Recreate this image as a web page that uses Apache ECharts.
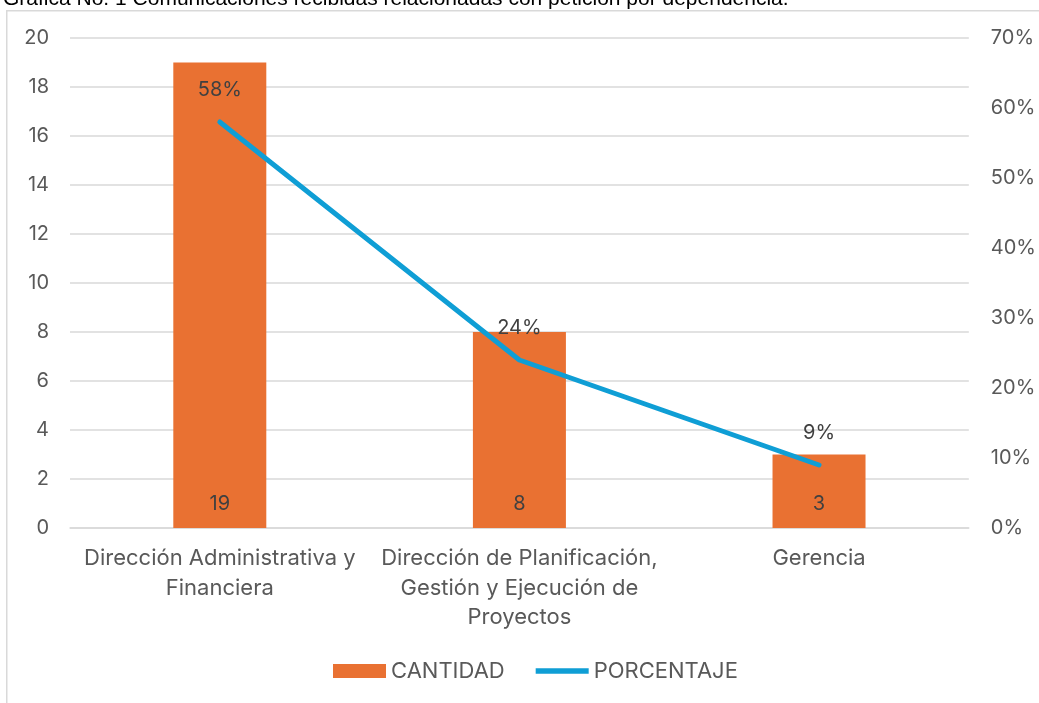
<!DOCTYPE html>
<html><head><meta charset="utf-8">
<script src="https://cdn.jsdelivr.net/npm/echarts@6/dist/echarts.min.js"></script>
<style>html,body{margin:0;padding:0;background:#fff;}#c{width:1039px;height:703px;}</style>
</head><body><div id="c"></div>
<script>
const categories = ['Dirección Administrativa y\nFinanciera', 'Dirección de Planificación,\nGestión y Ejecución de\nProyectos', 'Gerencia'];
const cantidad = [19, 8, 3];
const porcentaje = [0.58, 0.24, 0.09];
const titleText = 'Gráfica No. 1 Comunicaciones recibidas relacionadas con petición por dependencia.';

const FONT = 'Inter, "Open Sans", sans-serif';
const FS = 20;
const FC = 22;
const chart = echarts.init(document.getElementById('c'), null, {renderer: 'canvas'});
chart.setOption({
  animation: false,
  textStyle: {fontFamily: FONT},
  graphic: [
    {type: 'rect', left: 6, top: 10, shape: {width: 1100, height: 800}, style: {fill: '#fff', stroke: '#d9d9d9', lineWidth: 1.5}, z: -10},
    {type: 'text', left: 3, top: -11, style: {text: titleText, font: '21px "Liberation Sans", Arial, sans-serif', fill: '#000'}, z: 10}
  ],
  grid: {left: 70, right: 69, top: 38, bottom: 175, containLabel: false},
  legend: {
    bottom: 16, left: 328, itemGap: 31,
    textStyle: {fontSize: FC, color: '#595959', fontFamily: FONT},
    data: [
      {name: 'CANTIDAD', icon: 'rect', itemStyle: {color: '#E97132'}},
      {name: 'PORCENTAJE', icon: 'path://M0,0 L60,0 L60,6 L0,6 Z', itemStyle: {color: '#0F9ED5'}}
    ],
    itemWidth: 53, itemHeight: 14
  },
  xAxis: {
    type: 'category', data: categories,
    axisLine: {lineStyle: {color: '#d9d9d9', width: 1.5}},
    axisTick: {show: false},
    axisLabel: {fontSize: FC, color: '#595959', lineHeight: 29.5, margin: 16, interval: 0}
  },
  yAxis: [
    {type: 'value', min: 0, max: 20, interval: 2,
     axisLine: {show: false}, axisTick: {show: false},
     splitLine: {lineStyle: {color: '#d9d9d9', width: 1.5}},
     axisLabel: {fontSize: FS, color: '#595959', margin: 21}},
    {type: 'value', min: 0, max: 0.7, interval: 0.1,
     axisLine: {show: false}, axisTick: {show: false}, splitLine: {show: false},
     axisLabel: {fontSize: FS, color: '#595959', margin: 22, formatter: v => Math.round(v * 100) + '%'}}
  ],
  series: [
    {name: 'CANTIDAD', type: 'bar', data: cantidad, barWidth: 93,
     itemStyle: {color: '#E97132'},
     label: {show: true, position: 'insideBottom', distance: 14, fontSize: FS, color: '#404040'}},
    {name: 'PORCENTAJE', type: 'line', yAxisIndex: 1, data: porcentaje,
     symbol: 'circle', symbolSize: 1, showSymbol: true,
     lineStyle: {color: '#0F9ED5', width: 5, cap: 'round', join: 'round'},
     itemStyle: {color: '#0F9ED5'},
     label: {show: true, position: 'top', distance: 22, fontSize: FS, color: '#404040',
             formatter: p => Math.round(p.value * 100) + '%'}}
  ]
});
</script></body></html>
